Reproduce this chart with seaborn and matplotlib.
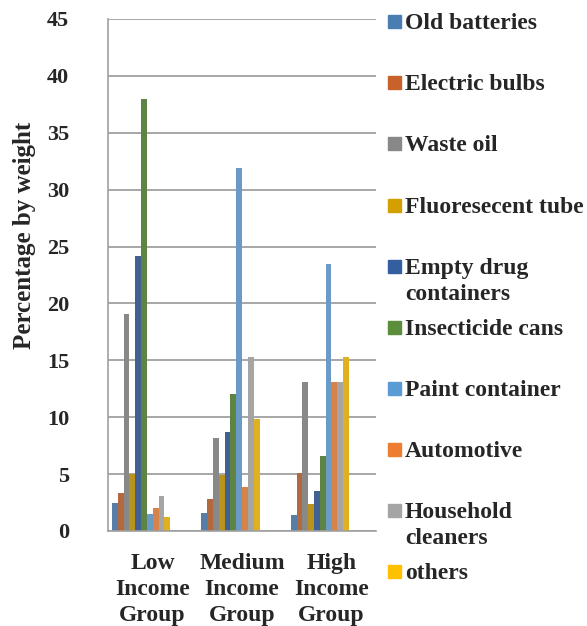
import pandas as pd
import matplotlib
matplotlib.use('Agg')
import matplotlib.pyplot as plt
from matplotlib.patches import Rectangle
import seaborn as sns

# data
groups = ['Low\nIncome\nGroup', 'Medium\nIncome\nGroup', 'High\nIncome\nGroup']
categories = ['Old batteries', 'Electric bulbs', 'Waste oil', 'Fluoresecent tube',
              'Empty drug\ncontainers', 'Insecticide cans', 'Paint container',
              'Automotive', 'Household\ncleaners', 'others']
old_batteries = [2.5, 1.6, 1.4]
electric_bulbs = [3.3, 2.8, 5.1]
waste_oil = [19.1, 8.2, 13.1]
fluorescent_tube = [5.0, 4.9, 2.4]
empty_drug = [24.2, 8.7, 3.5]
insecticide = [38.0, 12.0, 6.6]
paint = [1.5, 31.9, 23.5]
automotive = [2.0, 3.9, 13.1]
household = [3.1, 15.3, 13.1]
others = [1.2, 9.8, 15.3]
colors = ['#4A7EB3', '#C8622A', '#888888', '#D4A000', '#335EA0',
          '#5A8E3A', '#5B9BD5', '#ED7D31', '#A5A5A5', '#FFC000']

series = [old_batteries, electric_bulbs, waste_oil, fluorescent_tube, empty_drug,
          insecticide, paint, automotive, household, others]
rows = []
for cat, vals in zip(categories, series):
    for g, v in zip(groups, vals):
        rows.append({'group': g, 'category': cat, 'value': v})
df = pd.DataFrame(rows)

sns.set_style('white')
plt.rcParams['font.family'] = ['Liberation Serif', 'DejaVu Serif']
plt.rcParams['font.weight'] = 'bold'

fig = plt.figure(figsize=(5.87, 6.26), dpi=100)
ax = fig.add_axes([108 / 587, 1 - 531 / 626, 268 / 587, 512 / 626])

sns.barplot(data=df, x='group', y='value', hue='category', order=groups,
            hue_order=categories, palette=dict(zip(categories, colors)),
            width=0.652, linewidth=0, legend=False, ax=ax)
# bars sit a little left of each group centre, like in the original
for p in ax.patches:
    p.set_x(p.get_x() - 0.129)

ax.set_xlim(-0.5, 2.5)
ax.set_ylim(0, 45)
ax.set_yticks(range(0, 46, 5))
ax.set_axisbelow(True)
ax.yaxis.grid(True, color='#A0A0A0', linewidth=1.3)
ax.xaxis.grid(False)
for s in ['top', 'right']:
    ax.spines[s].set_visible(False)
for s in ['left', 'bottom']:
    ax.spines[s].set_color('#A0A0A0')
    ax.spines[s].set_linewidth(1.2)

ax.set_xticks([-0.5, 0.5, 1.5, 2.5], minor=True)
ax.tick_params(axis='x', which='minor', length=6, color='#A0A0A0', width=1.2)
ax.tick_params(axis='x', which='major', length=0, pad=16, labelsize=17)
ax.tick_params(axis='y', length=5, color='#A0A0A0', width=1.2, pad=23, labelsize=16)
for lab in ax.get_xticklabels():
    lab.set_fontweight('bold')
    lab.set_linespacing(1.32)
for lab in ax.get_yticklabels():
    lab.set_fontweight('bold')

ax.set_xlabel('')
ax.set_ylabel('Percentage by weight', fontsize=18, fontweight='bold')
ax.yaxis.set_label_coords(-0.27, 0.578)

# legend on the right, one entry about every 61 px
for i, (cat, col) in enumerate(zip(categories, colors)):
    yc = 21.7 + 61.1 * i
    fig.patches.append(Rectangle((388 / 587, 1 - (yc + 6.5) / 626), 13 / 587, 13 / 626,
                                 transform=fig.transFigure, color=col))
    for j, line in enumerate(cat.split('\n')):
        fig.text(405 / 587, 1 - (yc + 7.6 + 26 * j) / 626, line, fontsize=17,
                 fontweight='bold', va='baseline', ha='left')

fig.savefig('out.png', dpi=100)
